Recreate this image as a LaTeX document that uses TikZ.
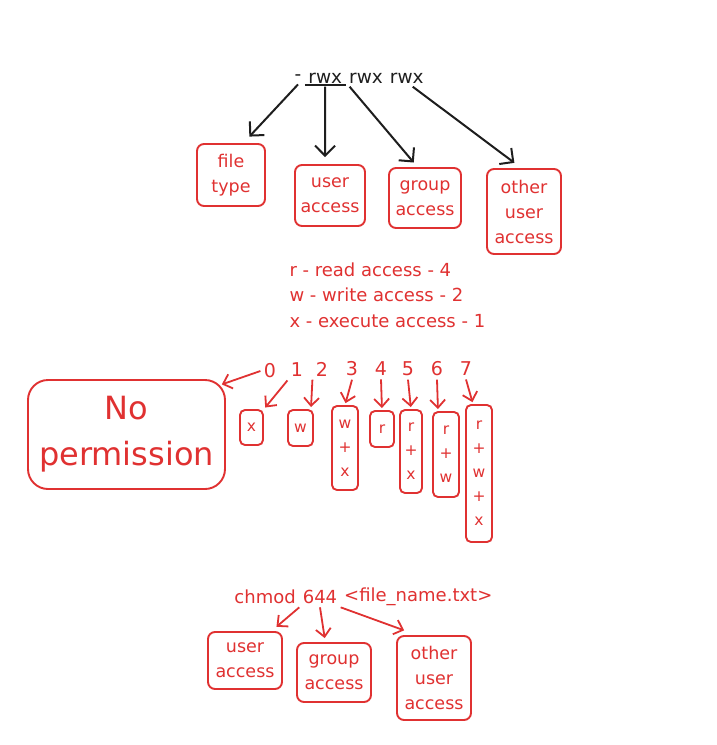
\documentclass[tikz,border=0pt]{standalone}
\usepackage{fontspec}
\setmainfont{DejaVu Sans}
\usetikzlibrary{arrows.meta}
\definecolor{exred}{HTML}{E03131}
\definecolor{exblack}{HTML}{1E1E1E}

\begin{document}
\begin{tikzpicture}[x=1pt,y=-1pt,
    box/.style={draw=exred,text=exred,line width=1.9pt,rounded corners=7pt,align=center,inner sep=0pt,font=\fontsize{17.5}{25}\selectfont},
    sm/.style={rounded corners=5pt,font=\fontsize{15.5}{24}\selectfont},
    lbl/.style={text=exred,font=\fontsize{19}{25}\selectfont},
    blk/.style={text=exblack,font=\fontsize{18.5}{22}\selectfont},
    blkarr/.style={draw=exblack,line width=2pt,-{Straight Barb[length=10pt,width=20pt]},shorten >=2pt},
    redarr/.style={draw=exred,line width=1.8pt,-{Straight Barb[length=8pt,width=15pt]},shorten >=2pt}]
      \useasboundingbox[fill=white] (0,0) rectangle (717,745);
      \node[blk] (ds) at (298,78) {-};
      \node[blk,anchor=west] (rw1) at (ds.east) {rwx};
      \node[blk,anchor=west] (rw2) at (rw1.east) {rwx};
      \node[blk,anchor=west] (rw3) at (rw2.east) {rwx};
      \draw[exblack,line width=1.6pt] ([yshift=2pt]rw1.south west) -- ([yshift=2pt]rw1.south east);
      \node[box,minimum width=68pt,minimum height=62pt] (ft) at (231,175) {file\\type};
      \node[box,minimum width=70pt,minimum height=61pt] (ua) at (330,195.5) {user\\access};
      \node[box,minimum width=72pt,minimum height=60pt] (ga) at (425,198) {group\\access};
      \node[box,minimum width=74pt,minimum height=85pt] (oa) at (524,211.5) {other\\user\\access};
      \draw[blkarr] (ds.south) -- ([xshift=17pt,yshift=5pt]ft.north);
      \draw[blkarr] (rw1.south) -- ([xshift=-5pt,yshift=5pt]ua.north);
      \draw[blkarr] ([xshift=4pt]rw2.south west) -- ([xshift=-10pt,yshift=3pt]ga.north);
      \draw[blkarr] ([xshift=6pt]rw3.south) -- ([xshift=-8pt,yshift=4pt]oa.north);
      \node[lbl,anchor=west,align=left,font=\fontsize{18}{25.5}\selectfont] (leg) at (286,295) {r - read access - 4\\w - write access - 2\\x - execute access - 1};
      \node[lbl] (n0) at (270,371) {0};
      \node[lbl] (n1) at (297,370) {1};
      \node[lbl] (n2) at (322,369) {2};
      \node[lbl] (n3) at (352,369) {3};
      \node[lbl] (n4) at (381,369) {4};
      \node[lbl] (n5) at (408,369) {5};
      \node[lbl] (n6) at (437,369) {6};
      \node[lbl] (n7) at (466,369) {7};
      \node[box,rounded corners=20pt,minimum width=197pt,minimum height=109pt,font=\fontsize{32}{46}\selectfont] (np) at (126.5,434.5) {No\\permission};
      \node[box,sm,minimum width=23pt,minimum height=35pt] (bx1) at (251.5,427.5) {x};
      \node[box,sm,minimum width=25pt,minimum height=36pt] (bx2) at (300.5,428) {w};
      \node[box,sm,minimum width=26pt,minimum height=84pt] (bx3) at (345,448) {w\\+\\x};
      \node[box,sm,minimum width=24pt,minimum height=36pt] (bx4) at (382,429) {r};
      \node[box,sm,minimum width=22pt,minimum height=83pt] (bx5) at (411,451.5) {r\\+\\x};
      \node[box,sm,minimum width=26pt,minimum height=85pt] (bx6) at (446,454.5) {r\\+\\w};
      \node[box,sm,minimum width=26pt,minimum height=137pt] (bx7) at (479,473.5) {r\\+\\w\\+\\x};
      \draw[redarr] (n0.west) -- ([xshift=-6pt,yshift=-6pt]np.north east);
      \draw[redarr] (n1.south west) -- (bx1.north east);
      \draw[redarr] (n2.south west) -- ([xshift=-3pt]bx2.north east);
      \draw[redarr] (n3.south) -- (bx3.north);
      \draw[redarr] (n4.south) -- (bx4.north);
      \draw[redarr] (n5.south) -- (bx5.north);
      \draw[redarr] (n6.south) -- ([xshift=-8pt]bx6.north);
      \draw[redarr] (n7.south) -- ([xshift=-6pt]bx7.north);
      \node[lbl,font=\fontsize{18}{22}\selectfont] (six) at (320,597) {644};
      \node[lbl,font=\fontsize{18}{22}\selectfont,anchor=east] (chm) at (six.west) {chmod};
      \node[lbl,font=\fontsize{18}{22}\selectfont,anchor=west] (fil) at (six.east) {<file\_name.txt>};
      \node[box,minimum width=74pt,minimum height=57pt] (cu) at (245,660.5) {user\\access};
      \node[box,minimum width=74pt,minimum height=59pt] (cg) at (334,672.5) {group\\access};
      \node[box,minimum width=74pt,minimum height=84pt] (co) at (434,678) {other\\user\\access};
      \draw[redarr] (six.south west) -- ([xshift=-8pt,yshift=3pt]cu.north east);
      \draw[redarr] (six.south) -- ([xshift=-9pt,yshift=2pt]cg.north);
      \draw[redarr] (six.south east) -- ([xshift=-28pt,yshift=4pt]co.north);
    \end{tikzpicture}
\end{document}
